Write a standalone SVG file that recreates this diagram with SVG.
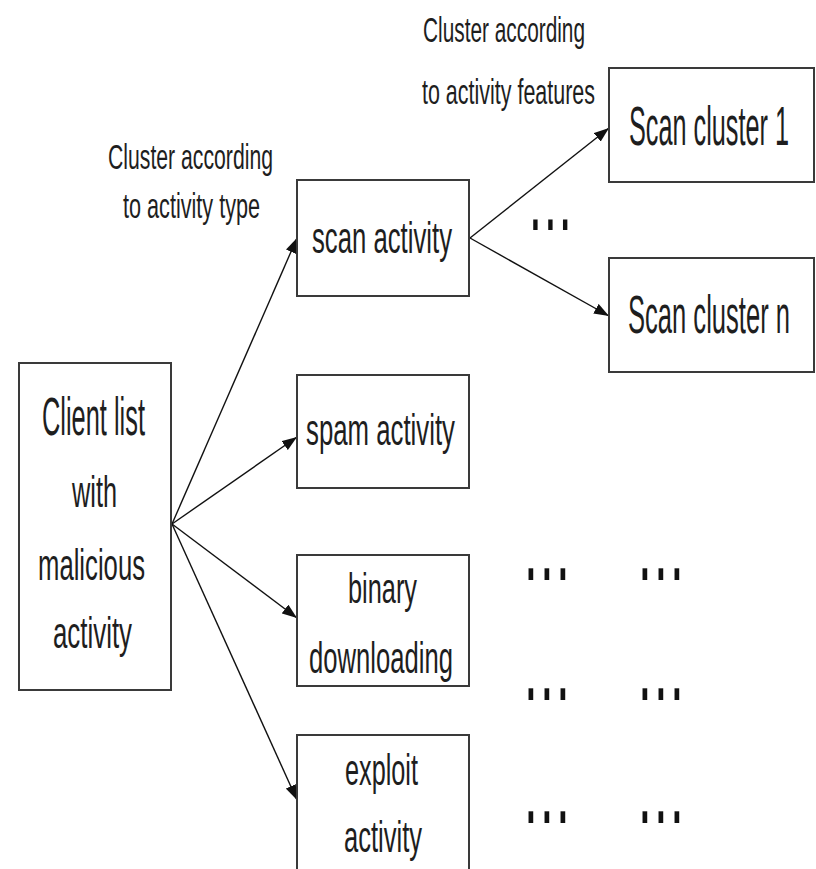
<svg xmlns="http://www.w3.org/2000/svg" width="816" height="869" viewBox="0 0 816 869">
  <style>
    .box { fill: #ffffff; stroke: #3a3a3a; stroke-width: 2; }
    .lbl { font-family: "Liberation Sans", Arial, sans-serif; fill: #1e1e1e; }
    .edge { fill: none; stroke: #111111; stroke-width: 1.4; }
    .dots { font-family: "Liberation Sans", Arial, sans-serif; fill: #111111; font-size: 110px; letter-spacing: 5px; }
  </style>
  <defs>
    <marker id="arrow" markerUnits="userSpaceOnUse" markerWidth="15" markerHeight="11" refX="15" refY="5.5" orient="auto">
      <path d="M0,0 L15,5.5 L0,11 z" fill="#111111"/>
    </marker>
  </defs>
  <rect width="816" height="869" fill="#ffffff"/>

  <!-- connectors -->
  <g id="connectors">
    <line class="edge" x1="172" y1="524" x2="297" y2="238" marker-end="url(#arrow)"/>
    <line class="edge" x1="172" y1="524" x2="297" y2="437" marker-end="url(#arrow)"/>
    <line class="edge" x1="172" y1="524" x2="297" y2="618" marker-end="url(#arrow)"/>
    <line class="edge" x1="172" y1="524" x2="297" y2="800" marker-end="url(#arrow)"/>
    <line class="edge" x1="470" y1="238" x2="609" y2="128" marker-end="url(#arrow)"/>
    <line class="edge" x1="470" y1="238" x2="609" y2="316" marker-end="url(#arrow)"/>
  </g>

  <!-- edge annotations -->
  <g id="label-type">
    <text class="lbl" font-size="35" x="108" y="169" textLength="165" lengthAdjust="spacingAndGlyphs">Cluster according</text>
    <text class="lbl" font-size="35" x="123" y="218" textLength="137" lengthAdjust="spacingAndGlyphs">to activity type</text>
  </g>
  <g id="label-features">
    <text class="lbl" font-size="35" x="423" y="42" textLength="162" lengthAdjust="spacingAndGlyphs">Cluster according</text>
    <text class="lbl" font-size="35" x="422" y="104" textLength="173" lengthAdjust="spacingAndGlyphs">to activity features</text>
  </g>

  <!-- source node -->
  <g id="client-list">
    <rect class="box" x="19" y="363" width="152" height="327"/>
    <text class="lbl" font-size="54" x="42" y="435" textLength="103" lengthAdjust="spacingAndGlyphs">Client list</text>
    <text class="lbl" font-size="44" x="72" y="507" textLength="45" lengthAdjust="spacingAndGlyphs">with</text>
    <text class="lbl" font-size="45" x="38" y="580" textLength="107" lengthAdjust="spacingAndGlyphs">malicious</text>
    <text class="lbl" font-size="44" x="53" y="648" textLength="79" lengthAdjust="spacingAndGlyphs">activity</text>
  </g>

  <!-- activity type nodes -->
  <g id="scan-activity">
    <rect class="box" x="297" y="180" width="172" height="116"/>
    <text class="lbl" font-size="44" x="312" y="253" textLength="140" lengthAdjust="spacingAndGlyphs">scan activity</text>
  </g>
  <g id="spam-activity">
    <rect class="box" x="297" y="375" width="172" height="113"/>
    <text class="lbl" font-size="44" x="306" y="445" textLength="149" lengthAdjust="spacingAndGlyphs">spam activity</text>
  </g>
  <g id="binary-downloading">
    <rect class="box" x="297" y="555" width="172" height="131"/>
    <text class="lbl" font-size="43" x="348" y="603" textLength="69" lengthAdjust="spacingAndGlyphs">binary</text>
    <text class="lbl" font-size="45" x="309" y="673" textLength="144" lengthAdjust="spacingAndGlyphs">downloading</text>
  </g>
  <g id="exploit-activity">
    <rect class="box" x="297" y="735" width="172" height="150"/>
    <text class="lbl" font-size="45" x="345" y="785" textLength="73" lengthAdjust="spacingAndGlyphs">exploit</text>
    <text class="lbl" font-size="44" x="344" y="852" textLength="78" lengthAdjust="spacingAndGlyphs">activity</text>
  </g>

  <!-- scan clusters -->
  <g id="scan-cluster-1">
    <rect class="box" x="609" y="68" width="205" height="114"/>
    <text class="lbl" font-size="55" x="629" y="145" textLength="160" lengthAdjust="spacingAndGlyphs">Scan cluster 1</text>
  </g>
  <g id="scan-cluster-n">
    <rect class="box" x="609" y="258" width="205" height="114"/>
    <text class="lbl" font-size="53" x="628" y="333" textLength="162" lengthAdjust="spacingAndGlyphs">Scan cluster n</text>
  </g>

  <!-- ellipses for omitted clusters: tall, narrow dots -->
  <g id="ellipses">
    <text class="dots" transform="translate(529,230) scale(0.42,0.9)">...</text>
    <text class="dots" transform="translate(524,580) scale(0.45,1)">...</text>
    <text class="dots" transform="translate(638,580) scale(0.45,1)">...</text>
    <text class="dots" transform="translate(524,700) scale(0.45,1)">...</text>
    <text class="dots" transform="translate(638,700) scale(0.45,1)">...</text>
    <text class="dots" transform="translate(524,823) scale(0.45,1)">...</text>
    <text class="dots" transform="translate(638,823) scale(0.45,1)">...</text>
  </g>
</svg>
